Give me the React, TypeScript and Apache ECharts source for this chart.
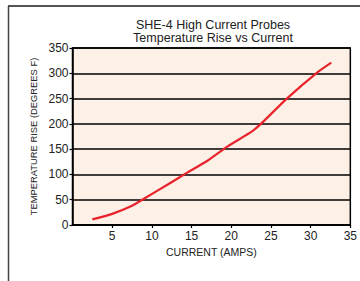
import React, { useEffect, useRef } from "react";
import * as echarts from "echarts";

const currentAmps = [2.5, 5, 7.5, 9, 12, 14.5, 17, 19.5, 22.7, 24, 27, 30.7, 32.6];
const tempRise = [11, 22, 38, 52, 80, 104, 127, 155, 186, 204, 250, 300, 321];
const titleLines = ["SHE-4 High Current Probes", "Temperature Rise vs Current"];
const xName = "CURRENT (AMPS)";
const yName = "TEMPERATURE RISE (DEGREES F)";

export default function App() {
  const ref = useRef<HTMLDivElement>(null);
  useEffect(() => {
    if (!ref.current) return;
    const chart = echarts.init(ref.current, null, { renderer: "svg" });
    const font = "Liberation Sans, Arial, Helvetica, sans-serif";
    chart.setOption({
      animation: false,
      backgroundColor: "#ffffff",
      title: {
        text: titleLines.join("\n"),
        left: 213,
        textAlign: "center",
        top: 18.5,
        padding: 0,
        textStyle: { fontFamily: font, fontSize: 12.5, fontWeight: "normal", color: "#222", lineHeight: 13 },
      },
      grid: {
        left: 72.5,
        right: 8.5,
        top: 48,
        bottom: 56,
        show: true,
        backgroundColor: "#FDF0E7",
        borderColor: "#000",
        borderWidth: 1.5,
      },
      xAxis: {
        type: "value",
        min: 0,
        max: 35,
        interval: 5,
        name: xName,
        nameLocation: "middle",
        nameGap: 21,
        nameTextStyle: { fontFamily: font, fontSize: 10.5, color: "#222" },
        axisLine: { show: true, lineStyle: { color: "#000", width: 1.5 } },
        axisTick: { show: true, length: 3, lineStyle: { color: "#000", width: 1.2 } },
        axisLabel: { showMinLabel: false, fontFamily: font, fontSize: 12, color: "#222", margin: 5 },
        splitLine: { show: false },
      },
      yAxis: {
        type: "value",
        min: 0,
        max: 350,
        interval: 50,
        name: yName,
        nameLocation: "middle",
        nameGap: 32,
        nameTextStyle: { fontFamily: font, fontSize: 9.4, color: "#222" },
        axisLine: { show: true, lineStyle: { color: "#000", width: 1.5 } },
        axisTick: { show: true, length: 3, lineStyle: { color: "#000", width: 1.2 } },
        axisLabel: { fontFamily: font, fontSize: 12, color: "#222", margin: 4 },
        splitLine: { show: true, lineStyle: { color: "#000", width: 1.5 } },
      },
      series: [
        {
          type: "line",
          data: currentAmps.map((x, i) => [x, tempRise[i]]),
          showSymbol: false,
          smooth: 0.25,
          lineStyle: { color: "#E8232B", width: 2.2 },
          itemStyle: { color: "#E8232B" },
        },
      ],
      graphic: [
        { type: "line", shape: { x1: 8, y1: 6, x2: 360, y2: 6 }, style: { stroke: "#555", lineWidth: 2 } },
        { type: "line", shape: { x1: 8.5, y1: 6, x2: 8.5, y2: 281 }, style: { stroke: "#444", lineWidth: 1.5 } },
      ],
    });
    return () => chart.dispose();
  }, []);
  return <div ref={ref} style={{ position: "fixed", left: 0, top: 0, width: 360, height: 281 }} />;
}
